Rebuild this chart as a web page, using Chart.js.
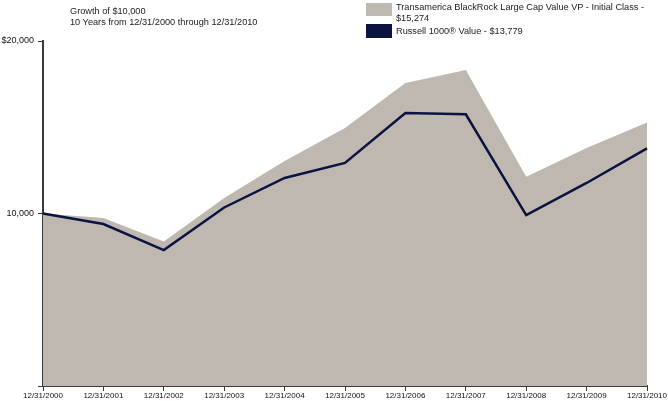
<!DOCTYPE html>
<html>
<head>
<meta charset="utf-8">
<script src="https://cdn.jsdelivr.net/npm/chart.js@4"></script>
<style>
  body { margin: 0; background: #fff; font-family: "Liberation Sans", Arial, sans-serif; }
  #wrap { position: relative; width: 668px; height: 401px; }
  #title { position: absolute; left: 70px; top: 6px; font-size: 9.2px; line-height: 11px; color: #222; }
  .leg { position: absolute; left: 366px; font-size: 9.2px; line-height: 10.5px; color: #222; }
  .leg .box { position: absolute; left: 0; width: 26px; height: 13px; }
  .leg .txt { position: absolute; left: 30px; white-space: nowrap; }
</style>
</head>
<body>
<div id="wrap">
  <canvas id="myChart" width="668" height="401"></canvas>
  <div id="title">Growth of $10,000<br>10 Years from 12/31/2000 through 12/31/2010</div>
  <div class="leg" style="top:3px"><div class="box" style="background:#bfb8b1"></div><div class="txt" style="top:-1px">Transamerica BlackRock Large Cap Value VP - Initial Class -<br>$15,274</div></div>
  <div class="leg" style="top:24px"><div class="box" style="background:#0b1340;height:14px"></div><div class="txt" style="top:2px">Russell 1000® Value - $13,779</div></div>
</div>
<script>
var dates = ['12/31/2000', '12/31/2001', '12/31/2002', '12/31/2003', '12/31/2004', '12/31/2005',
             '12/31/2006', '12/31/2007', '12/31/2008', '12/31/2009', '12/31/2010'];
var fundValues = [10000, 9740, 8370, 10900, 13040, 14960, 17570, 18320, 12130, 13800, 15274];
var indexValues = [10000, 9390, 7880, 10350, 12060, 12930, 15830, 15750, 9910, 11770, 13779];
var yTicks = {20000: '$20,000', 10000: '10,000', 0: ''};

var axisColor = '#3a3a3a';

const ctx = document.getElementById('myChart').getContext('2d');
const myChart = new Chart(ctx, {
    type: 'line',
    data: {
        labels: dates,
        datasets: [{
            label: 'Russell 1000® Value - $13,779',
            data: indexValues,
            borderColor: '#0b1340',
            borderWidth: 2.5,
            pointRadius: 0,
            fill: false,
            tension: 0,
            order: 0
        }, {
            label: 'Transamerica BlackRock Large Cap Value VP - Initial Class - $15,274',
            data: fundValues,
            backgroundColor: '#bfb8b1',
            borderWidth: 0,
            pointRadius: 0,
            fill: 'origin',
            tension: 0,
            order: 1
        }]
    },
    options: {
        responsive: false,
        animation: false,
        layout: { padding: { top: 41, right: 21, left: 0, bottom: 0 } },
        plugins: { legend: { display: false }, tooltip: { enabled: false } },
        scales: {
            x: {
                grid: { drawOnChartArea: false, drawTicks: true, tickLength: 5, color: axisColor },
                border: { display: true, color: axisColor, width: 2 },
                ticks: {
                    color: '#111', maxRotation: 0, autoSkip: false, padding: 0,
                    font: { family: 'Liberation Sans', size: 8 }
                },
                afterFit: function(scale) { scale.height = 15; }
            },
            y: {
                min: 0, max: 20000,
                grid: { drawOnChartArea: false, drawTicks: true, tickLength: 5, color: axisColor },
                border: { display: true, color: axisColor, width: 2 },
                ticks: {
                    stepSize: 10000, color: '#111', padding: 4,
                    font: { family: 'Liberation Sans', size: 9 },
                    callback: function(v) { return yTicks[v]; }
                },
                afterFit: function(scale) { scale.width = 43; }
            }
        }
    }
});
</script>
</body>
</html>
